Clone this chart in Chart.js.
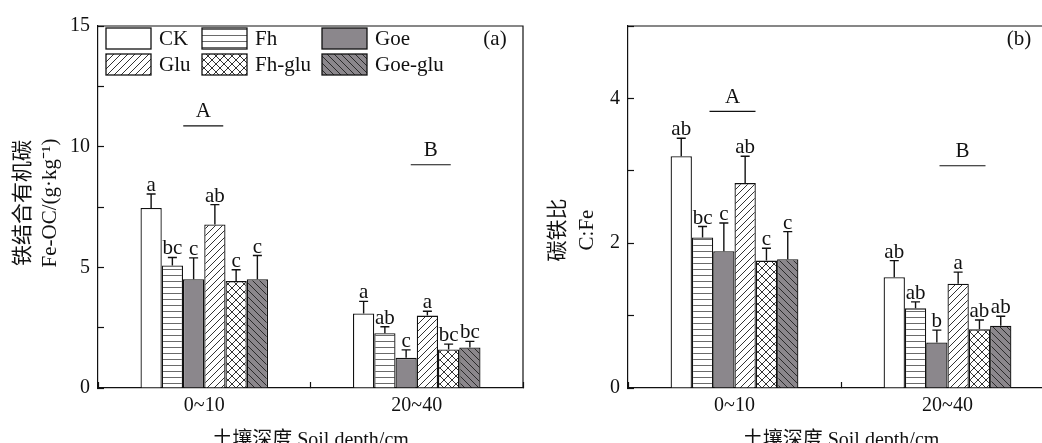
<!DOCTYPE html>
<html>
<head>
<meta charset="utf-8">
<script src="https://cdn.jsdelivr.net/npm/chart.js@4"></script>
<style>
  html, body { margin: 0; padding: 0; background: #fff; width: 1042px; height: 443px; overflow: hidden; }
  canvas { position: absolute; top: 0; }
  #chartA { left: 0; }
  #chartB { left: 526px; }
</style>
</head>
<body>
<canvas id="chartA" width="526" height="453"></canvas>
<canvas id="chartB" width="540" height="453"></canvas>
<script>
// 📋 Data
const depths = ['0~10', '20~40'];
const treatments = ['CK', 'Fh', 'Goe', 'Glu', 'Fh-glu', 'Goe-glu'];

// (a) Fe-OC, rows follow treatments, columns follow depths
const feocMean = [[7.46, 3.09], [5.08, 2.27], [4.51, 1.25], [6.78, 3.00], [4.43, 1.60], [4.51, 1.68]];
const feocErr = [[0.58, 0.50], [0.33, 0.27], [0.88, 0.33], [0.82, 0.18], [0.47, 0.22], [0.98, 0.25]];
const feocLetters = [['a', 'a'], ['bc', 'ab'], ['c', 'c'], ['ab', 'a'], ['c', 'bc'], ['c', 'bc']];
const feocTickLabels = [0, 5, 10, 15];
const feocGroupLine = [10.86, 9.25];

// (b) C:Fe
const cfeMean = [[3.20, 1.53], [2.08, 1.10], [1.89, 0.63], [2.83, 1.44], [1.76, 0.81], [1.78, 0.86]];
const cfeErr = [[0.25, 0.23], [0.15, 0.09], [0.39, 0.17], [0.37, 0.16], [0.17, 0.13], [0.38, 0.13]];
const cfeLetters = [['ab', 'ab'], ['bc', 'ab'], ['c', 'b'], ['ab', 'a'], ['c', 'ab'], ['c', 'ab']];
const cfeTickLabels = [0, 2, 4];
const cfeGroupLine = [3.82, 3.07];

const groupLetters = ['A', 'B'];

const FONT = "'Liberation Serif', 'Noto Sans CJK SC', serif";


// 🎨 Fill patterns
function makePattern(kind, bg, fg, size) {
  const c = document.createElement('canvas');
  c.width = c.height = size;
  const g = c.getContext('2d');
  g.fillStyle = bg;
  g.fillRect(0, 0, size, size);
  g.strokeStyle = fg;
  g.lineWidth = 1;
  g.beginPath();
  if (kind === 'h') {
    g.moveTo(0, size - 0.5);
    g.lineTo(size, size - 0.5);
  }
  for (const k of [-size, 0, size]) {
    if (kind === 'fwd' || kind === 'cross') {
      g.moveTo(k, size);
      g.lineTo(k + size, 0);
    }
    if (kind === 'back' || kind === 'cross') {
      g.moveTo(k, 0);
      g.lineTo(k + size, size);
    }
  }
  g.stroke();
  return g.createPattern(c, 'repeat');
}

const fills = [
  '#ffffff',
  makePattern('h', '#ffffff', '#6a6a6a', 6),
  '#8b878c',
  makePattern('fwd', '#ffffff', '#333333', 7),
  makePattern('cross', '#ffffff', '#333333', 8),
  makePattern('back', '#8b878c', '#2a2a2a', 7)
];


// ✏️ Extras: error bars, letters, frame, legend, titles
const decorPlugin = {
  id: 'decor',
  afterDatasetsDraw(chart, args, opts) {
    const { ctx, scales: { x, y } } = chart;
    ctx.save();
    ctx.strokeStyle = '#111';
    ctx.fillStyle = '#111';
    ctx.lineWidth = 1.4;
    ctx.font = '21px ' + FONT;
    ctx.textAlign = 'center';
    ctx.textBaseline = 'alphabetic';
    chart.data.datasets.forEach((ds, i) => {
      chart.getDatasetMeta(i).data.forEach((bar, j) => {
        const top = y.getPixelForValue(ds.data[j] + ds.errors[j]);
        ctx.beginPath();
        ctx.moveTo(bar.x, bar.y);
        ctx.lineTo(bar.x, top);
        ctx.moveTo(bar.x - 4.5, top);
        ctx.lineTo(bar.x + 4.5, top);
        ctx.stroke();
        ctx.fillText(ds.letters[j], bar.x, top - 3);
      });
    });

    // A / B over the depth groups
    ctx.lineWidth = 1.2;
    ctx.textBaseline = 'middle';
    groupLetters.forEach((txt, j) => {
      const cx = x.getPixelForValue(j) + opts.groupShift[j];
      const ly = y.getPixelForValue(opts.groupLine[j]);
      const hw = opts.groupHalf;
      ctx.beginPath();
      ctx.moveTo(cx - hw, ly);
      ctx.lineTo(cx + hw, ly);
      ctx.stroke();
      ctx.fillText(txt, cx, ly - 14);
    });
    ctx.restore();
  },
  afterDraw(chart, args, opts) {
    const { ctx, chartArea: a } = chart;
    ctx.save();
    ctx.strokeStyle = '#111';
    ctx.lineWidth = 1.2;
    ctx.beginPath();
    ctx.moveTo(a.left, a.top);
    ctx.lineTo(a.right, a.top);
    ctx.lineTo(a.right, a.bottom);
    ctx.stroke();

    ctx.fillStyle = '#111';
    ctx.font = '21px ' + FONT;
    ctx.textAlign = 'center';
    ctx.textBaseline = 'middle';
    ctx.fillText(opts.tag, opts.tagX, 39);

    // y title, two rotated lines
    opts.yTitle.forEach((line, k) => {
      ctx.save();
      ctx.translate(opts.yTitleX[k], opts.yTitleY);
      ctx.rotate(-Math.PI / 2);
      ctx.fillText(line, 0, 0);
      ctx.restore();
    });

    // legend in 3 columns x 2 rows
    if (opts.legend) {
      const colX = [106, 202, 322];
      const rowY = [28, 54];
      ctx.textAlign = 'left';
      ctx.lineWidth = 1.3;
      chart.data.datasets.forEach((ds, i) => {
        const bx = colX[i % 3];
        const by = rowY[Math.floor(i / 3)];
        ctx.fillStyle = ds.backgroundColor;
        ctx.fillRect(bx, by, 45, 21);
        ctx.strokeRect(bx, by, 45, 21);
        ctx.fillStyle = '#111';
        ctx.fillText(ds.label, bx + 53, by + 11);
      });
    }
    ctx.restore();
  }
};


// 📈 Chart builder
function buildChart(id, opt) {
  const datasets = treatments.map((name, i) => ({
    label: name,
    data: opt.mean[i],
    errors: opt.err[i],
    letters: opt.letters[i],
    backgroundColor: fills[i],
    borderColor: '#111',
    borderWidth: 1.3,
    categoryPercentage: 0.6,
    barPercentage: 1.0
  }));

  return new Chart(document.getElementById(id), {
    type: 'bar',
    data: { labels: depths, datasets },
    plugins: [decorPlugin],
    options: {
      responsive: false,
      animation: false,
      devicePixelRatio: 1,
      layout: { padding: { left: 0, top: 20, right: opt.padRight, bottom: 0 } },
      plugins: {
        legend: { display: false },
        tooltip: { enabled: false },
        decor: opt.decor
      },
      scales: {
        x: {
          grid: { drawOnChartArea: false, tickLength: -6, tickColor: '#111', tickWidth: 1.2 },
          border: { color: '#111', width: 1.2 },
          ticks: { color: '#111', padding: 12, font: { family: FONT, size: 20 } },
          title: {
            display: true,
            text: '土壤深度 Soil depth/cm',
            color: '#111',
            padding: 0,
            font: { family: FONT, size: 20, lineHeight: 1.2 }
          },
          afterFit: s => { s.height = 65; }
        },
        y: {
          min: 0,
          max: opt.max,
          grid: { drawOnChartArea: false, tickLength: -6, tickColor: '#111', tickWidth: 1.2 },
          border: { color: '#111', width: 1.2 },
          ticks: {
            stepSize: opt.step,
            color: '#111',
            padding: 14,
            font: { family: FONT, size: 20 },
            callback: v => opt.tickLabels.includes(v) ? v : ''
          },
          afterFit: s => { s.width = opt.yWidth; }
        }
      }
    }
  });
}

buildChart('chartA', {
  mean: feocMean, err: feocErr, letters: feocLetters,
  max: 15, step: 2.5, tickLabels: feocTickLabels,
  yWidth: 98, padRight: 3,
  decor: {
    tag: '(a)', tagX: 495, legend: true,
    yTitle: ['铁结合有机碳', 'Fe-OC/(g·kg⁻¹)'], yTitleX: [23, 50], yTitleY: 203,
    groupLine: feocGroupLine, groupShift: [-1, 14], groupHalf: 20
  }
});

buildChart('chartB', {
  mean: cfeMean, err: cfeErr, letters: cfeLetters,
  max: 5, step: 1, tickLabels: cfeTickLabels,
  yWidth: 102, padRight: 12,
  decor: {
    tag: '(b)', tagX: 493, legend: false,
    yTitle: ['碳铁比', 'C:Fe'], yTitleX: [32, 61], yTitleY: 230,
    groupLine: cfeGroupLine, groupShift: [-2, 15], groupHalf: 23
  }
});
</script>
</body>
</html>
